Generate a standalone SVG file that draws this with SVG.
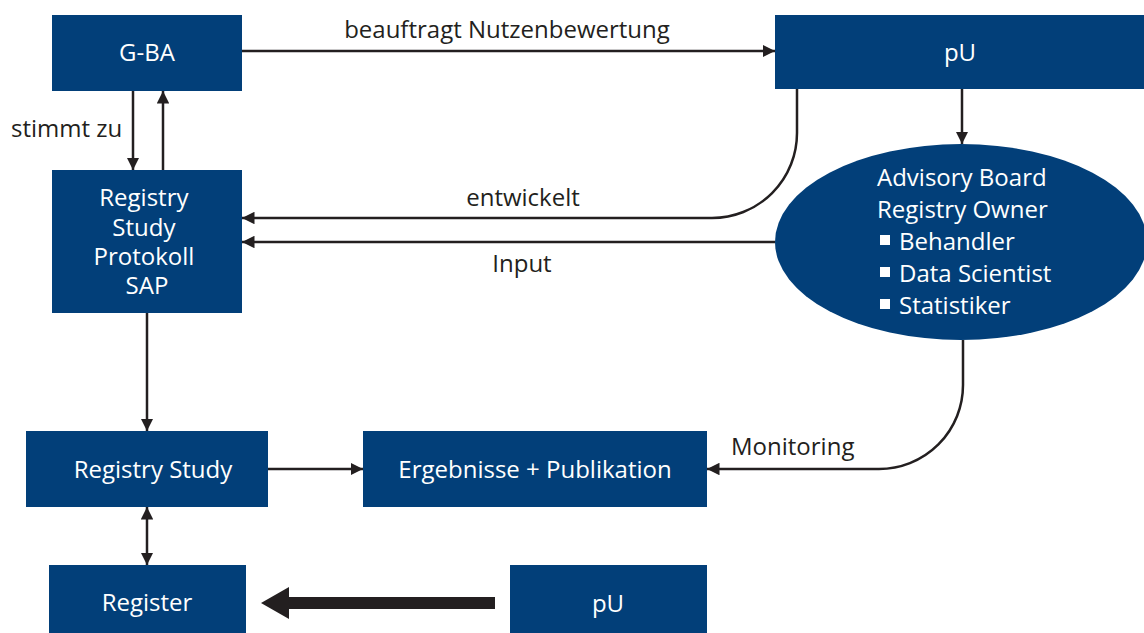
<svg xmlns="http://www.w3.org/2000/svg" width="1144" height="633" viewBox="0 0 1144 633">
  <defs>
    <style>
      .box { fill: #023f79; }
      .wt { fill: #ffffff; font-family: "Open Sans", "Noto Sans", sans-serif; font-size: 24px; }
      .lbl { fill: #231f20; font-family: "Open Sans", "Noto Sans", sans-serif; font-size: 24px; }
      .edge { fill: none; stroke: #231f20; stroke-width: 2.5; }
    </style>
    <marker id="ah" viewBox="0 0 10 10" refX="10" refY="5" markerWidth="5" markerHeight="5" markerUnits="strokeWidth" orient="auto-start-reverse">
      <path d="M0,0 L10,5 L0,10 z" fill="#231f20"/>
    </marker>
  </defs>
  <rect width="1144" height="633" fill="#ffffff"/>

  <g id="gba">
    <rect class="box" x="52" y="15" width="190" height="76"/>
    <text class="wt" x="147" y="61" text-anchor="middle">G-BA</text>
  </g>

  <g id="pu-top">
    <rect class="box" x="775" y="15" width="369" height="74"/>
    <text class="wt" x="960" y="61" text-anchor="middle">pU</text>
  </g>

  <g id="protokoll">
    <rect class="box" x="52" y="170" width="190" height="143"/>
    <text class="wt" text-anchor="middle">
      <tspan x="147" y="206">Registry</tspan>
      <tspan x="147" y="236">Study</tspan>
      <tspan x="147" y="265">Protokoll</tspan>
      <tspan x="147" y="294">SAP</tspan>
    </text>
  </g>

  <g id="advisory-board">
    <ellipse class="box" cx="961" cy="242" rx="186" ry="98"/>
    <text class="wt">
      <tspan x="877" y="186">Advisory Board</tspan>
      <tspan x="877" y="218">Registry Owner</tspan>
      <tspan x="899" y="250">Behandler</tspan>
      <tspan x="899" y="282">Data Scientist</tspan>
      <tspan x="899" y="314">Statistiker</tspan>
    </text>
    <rect x="880" y="235" width="10" height="10" fill="#ffffff"/>
    <rect x="880" y="267" width="10" height="10" fill="#ffffff"/>
    <rect x="880" y="299" width="10" height="10" fill="#ffffff"/>
  </g>

  <g id="registry-study">
    <rect class="box" x="26" y="431" width="242" height="76"/>
    <text class="wt" x="153" y="478" text-anchor="middle">Registry Study</text>
  </g>

  <g id="ergebnisse">
    <rect class="box" x="363" y="431" width="344" height="76"/>
    <text class="wt" x="535" y="478" text-anchor="middle">Ergebnisse + Publikation</text>
  </g>

  <g id="register">
    <rect class="box" x="49" y="565" width="197" height="68"/>
    <text class="wt" x="147" y="611" text-anchor="middle">Register</text>
  </g>

  <g id="pu-bottom">
    <rect class="box" x="510" y="565" width="197" height="68"/>
    <text class="wt" x="608" y="612" text-anchor="middle">pU</text>
  </g>

  <g id="connectors">
    <!-- G-BA commissions pU -->
    <path class="edge" d="M242,51 H775" marker-end="url(#ah)"/>
    <text class="lbl" x="507" y="38" text-anchor="middle">beauftragt Nutzenbewertung</text>

    <!-- approval loop between G-BA and protocol -->
    <path class="edge" d="M133,91 V170" marker-end="url(#ah)"/>
    <path class="edge" d="M163,170 V91" marker-end="url(#ah)"/>
    <text class="lbl" x="11" y="137">stimmt zu</text>

    <!-- pU develops the protocol -->
    <path class="edge" d="M797,89 V133 A85,85 0 0 1 712,218 H242" marker-end="url(#ah)"/>
    <text class="lbl" x="523" y="206" text-anchor="middle">entwickelt</text>

    <!-- pU to advisory board -->
    <path class="edge" d="M962,89 V144" marker-end="url(#ah)"/>

    <!-- board input -->
    <path class="edge" d="M775,242 H242" marker-end="url(#ah)"/>
    <text class="lbl" x="522" y="272" text-anchor="middle">Input</text>

    <!-- protocol to study -->
    <path class="edge" d="M147,313 V431" marker-end="url(#ah)"/>

    <!-- study to results -->
    <path class="edge" d="M268,469 H363" marker-end="url(#ah)"/>

    <!-- monitoring -->
    <path class="edge" d="M963,340 V385 A84,84 0 0 1 879,469 H707" marker-end="url(#ah)"/>
    <text class="lbl" x="731" y="455">Monitoring</text>

    <!-- study and register -->
    <path class="edge" d="M147,507 V565" marker-start="url(#ah)" marker-end="url(#ah)"/>

    <!-- thick arrow pU to register -->
    <polygon points="495,597 289,597 289,587 261,603 289,619 289,609 495,609" fill="#231f20"/>
  </g>
</svg>
